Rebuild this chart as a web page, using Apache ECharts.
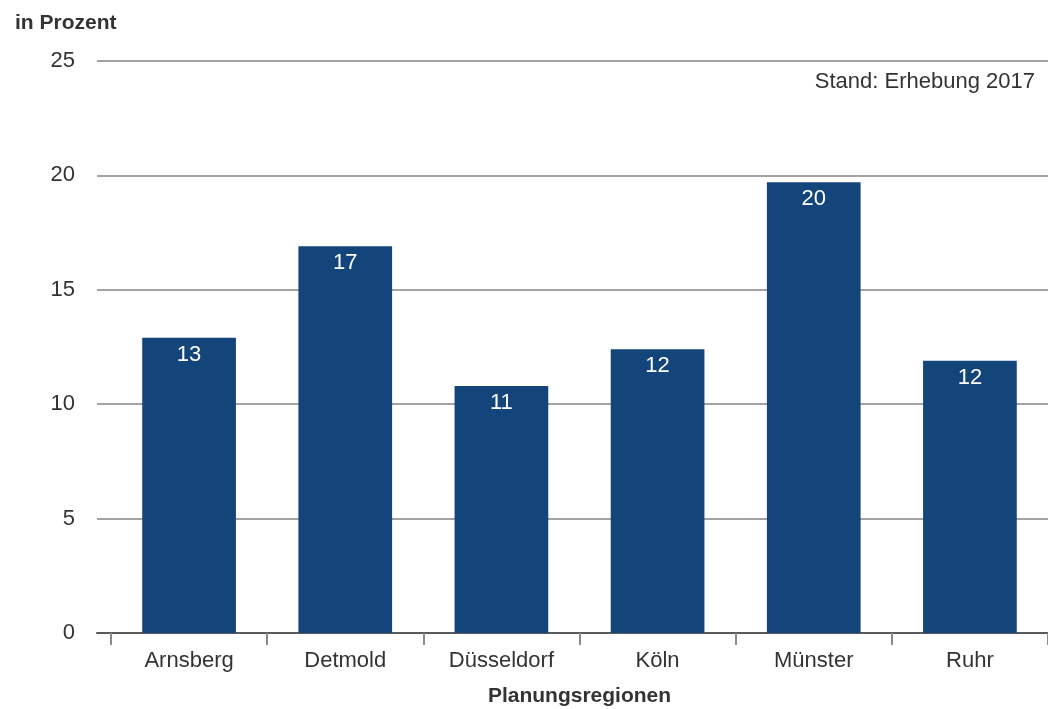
<!DOCTYPE html>
<html>
<head>
<meta charset="utf-8">
<style>
  html, body { margin: 0; padding: 0; background: #fff; }
  #chart { width: 1048px; height: 709px; }
</style>
<script src="https://cdn.jsdelivr.net/npm/echarts@6/dist/echarts.min.js"></script>
</head>
<body>
<div id="chart"></div>
<script>
// Anteil je Planungsregion (in Prozent)
const regions = ['Arnsberg', 'Detmold', 'Düsseldorf', 'Köln', 'Münster', 'Ruhr'];
const shares = [12.9, 16.9, 10.8, 12.4, 19.7, 11.9];
const yTicks = [0, 5, 10, 15, 20, 25];

const FONT = '"Liberation Sans", Arial, Helvetica, sans-serif';
const TEXT = '#333333';
const BAR = '#13457a';

const chart = echarts.init(document.getElementById('chart'));
chart.setOption({
  animation: false,
  textStyle: { fontFamily: FONT },
  title: [
    { text: 'in Prozent', left: 10, top: 8,
      textStyle: { fontFamily: FONT, fontSize: 21, fontWeight: 'bold', color: TEXT } },
    { text: 'Stand: Erhebung 2017', right: 8, top: 66,
      textStyle: { fontFamily: FONT, fontSize: 22, fontWeight: 'normal', color: TEXT } }
  ],
  grid: [
    // value grid: gridlines, y labels and baseline
    { left: 97, right: 0, top: 61, bottom: 76, containLabel: false, outerBoundsMode: 'none' },
    // category grid: bars, ticks and region names
    { left: 111, right: 0, top: 61, bottom: 76, containLabel: false, outerBoundsMode: 'none' }
  ],
  xAxis: [
    { type: 'value', gridIndex: 0, min: 0, max: 1,
      axisLine: { show: true, lineStyle: { color: '#5a5a5a', width: 2 } },
      axisTick: { show: false }, axisLabel: { show: false }, splitLine: { show: false } },
    { type: 'category', gridIndex: 1, data: regions,
      axisLine: { show: false },
      axisTick: { show: true, length: 12, lineStyle: { color: '#8a8a8a', width: 2 } },
      axisLabel: { margin: 17, fontSize: 22, color: TEXT, fontFamily: FONT },
      name: 'Planungsregionen', nameLocation: 'middle', nameGap: 53,
      nameTextStyle: { fontSize: 21, fontWeight: 'bold', color: TEXT, fontFamily: FONT } }
  ],
  yAxis: [
    { type: 'value', gridIndex: 0, min: yTicks[0], max: yTicks[yTicks.length - 1], interval: 5,
      axisLine: { show: false }, axisTick: { show: false },
      axisLabel: { margin: 22, fontSize: 22, color: TEXT, fontFamily: FONT },
      splitLine: { show: true, lineStyle: { color: '#a3a3a3', width: 2 } } },
    { type: 'value', gridIndex: 1, min: yTicks[0], max: yTicks[yTicks.length - 1], interval: 5,
      axisLine: { show: false }, axisTick: { show: false },
      axisLabel: { show: false }, splitLine: { show: false } }
  ],
  series: [{
    type: 'bar',
    xAxisIndex: 1, yAxisIndex: 1,
    data: shares,
    barWidth: '60%',
    itemStyle: { color: BAR },
    label: {
      show: true, position: 'insideTop', distance: 6,
      color: '#ffffff', fontSize: 22, fontFamily: FONT,
      formatter: p => String(Math.round(p.value))
    }
  }]
});
</script>
</body>
</html>
